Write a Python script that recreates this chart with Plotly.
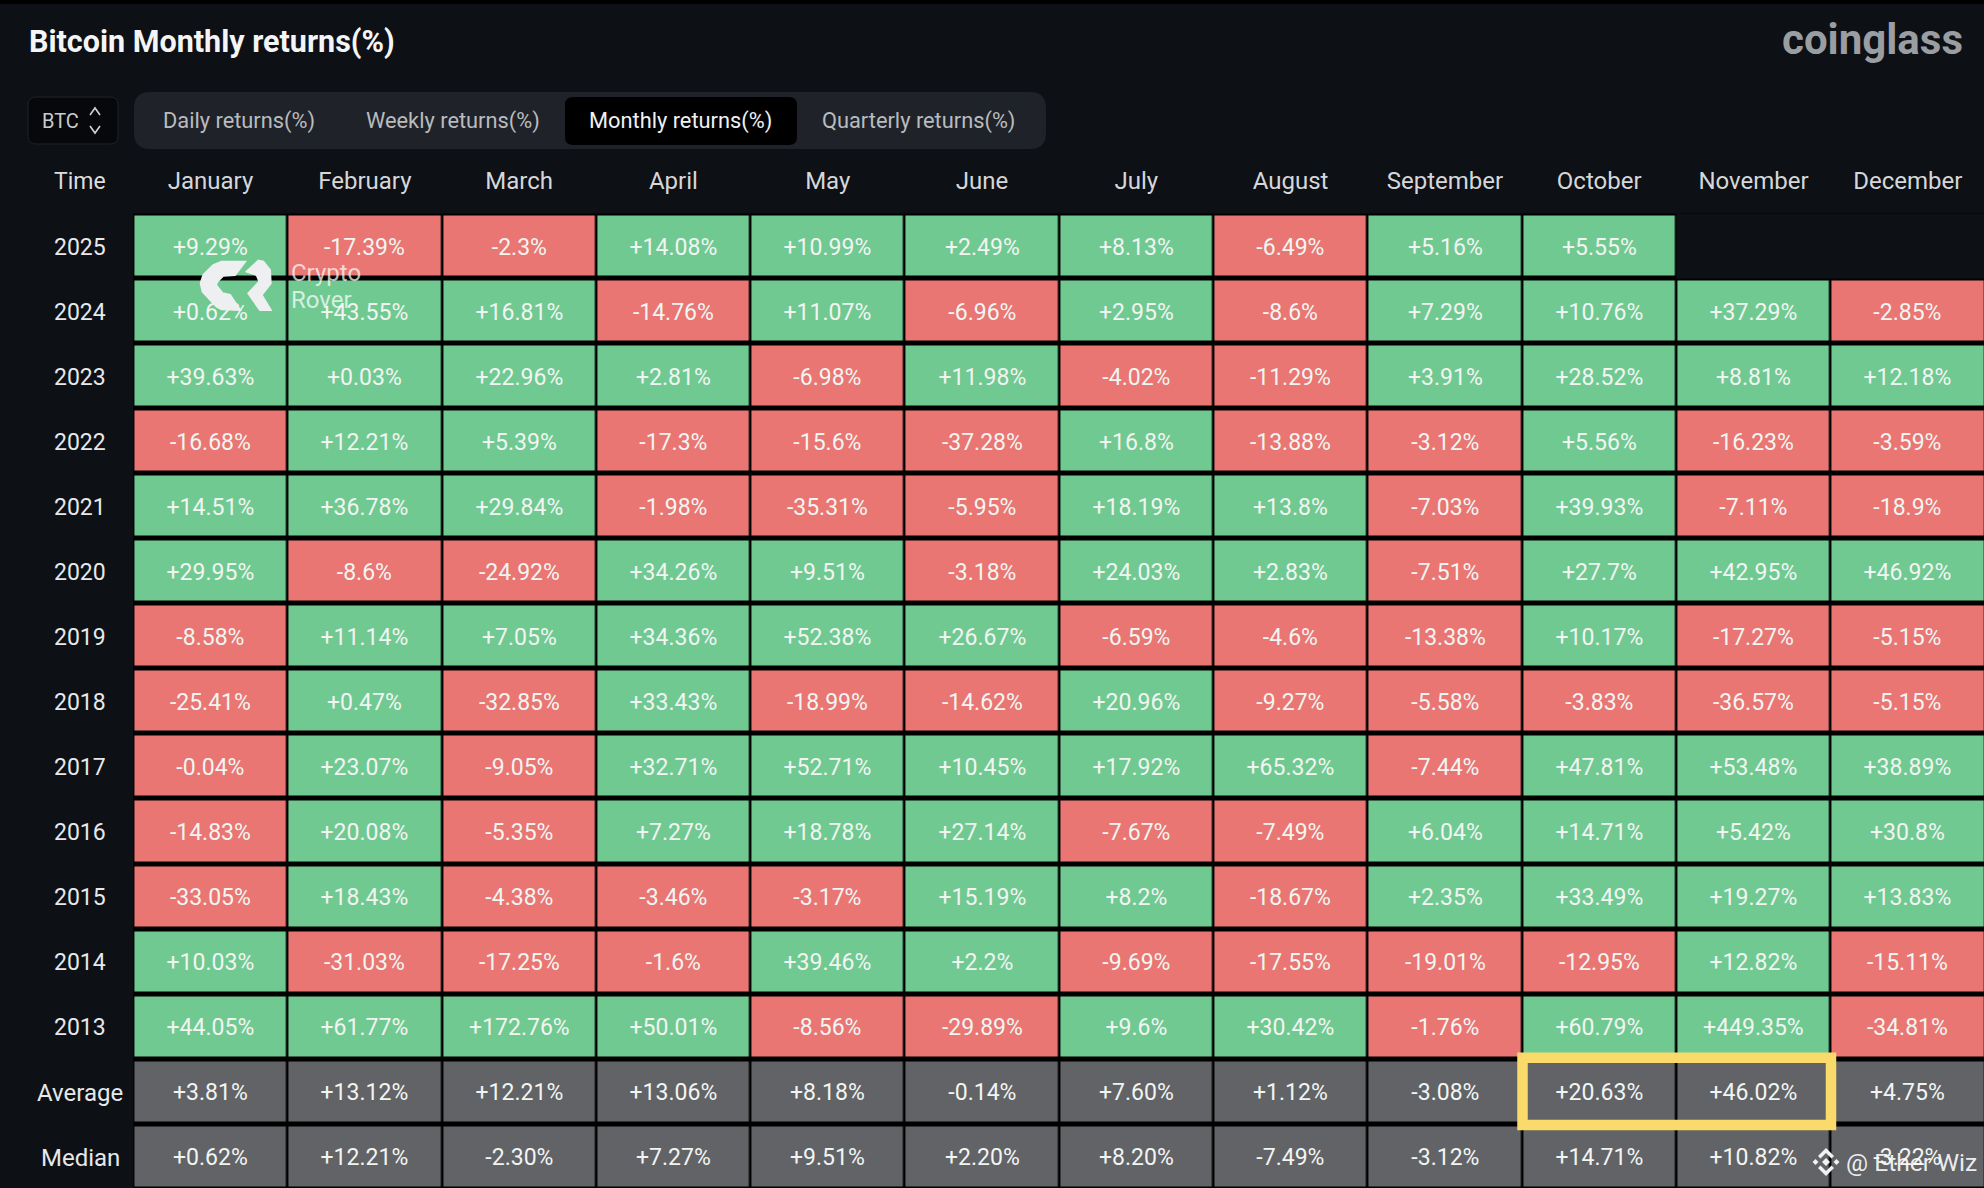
import plotly.graph_objects as go

W, H = 1984, 1188

months = ['January', 'February', 'March', 'April', 'May', 'June', 'July',
          'August', 'September', 'October', 'November', 'December']
years = ['2025', '2024', '2023', '2022', '2021', '2020', '2019',
         '2018', '2017', '2016', '2015', '2014', '2013']

r2025 = [9.29, -17.39, -2.3, 14.08, 10.99, 2.49, 8.13, -6.49, 5.16, 5.55, None, None]
r2024 = [0.62, 43.55, 16.81, -14.76, 11.07, -6.96, 2.95, -8.6, 7.29, 10.76, 37.29, -2.85]
r2023 = [39.63, 0.03, 22.96, 2.81, -6.98, 11.98, -4.02, -11.29, 3.91, 28.52, 8.81, 12.18]
r2022 = [-16.68, 12.21, 5.39, -17.3, -15.6, -37.28, 16.8, -13.88, -3.12, 5.56, -16.23, -3.59]
r2021 = [14.51, 36.78, 29.84, -1.98, -35.31, -5.95, 18.19, 13.8, -7.03, 39.93, -7.11, -18.9]
r2020 = [29.95, -8.6, -24.92, 34.26, 9.51, -3.18, 24.03, 2.83, -7.51, 27.7, 42.95, 46.92]
r2019 = [-8.58, 11.14, 7.05, 34.36, 52.38, 26.67, -6.59, -4.6, -13.38, 10.17, -17.27, -5.15]
r2018 = [-25.41, 0.47, -32.85, 33.43, -18.99, -14.62, 20.96, -9.27, -5.58, -3.83, -36.57, -5.15]
r2017 = [-0.04, 23.07, -9.05, 32.71, 52.71, 10.45, 17.92, 65.32, -7.44, 47.81, 53.48, 38.89]
r2016 = [-14.83, 20.08, -5.35, 7.27, 18.78, 27.14, -7.67, -7.49, 6.04, 14.71, 5.42, 30.8]
r2015 = [-33.05, 18.43, -4.38, -3.46, -3.17, 15.19, 8.2, -18.67, 2.35, 33.49, 19.27, 13.83]
r2014 = [10.03, -31.03, -17.25, -1.6, 39.46, 2.2, -9.69, -17.55, -19.01, -12.95, 12.82, -15.11]
r2013 = [44.05, 61.77, 172.76, 50.01, -8.56, -29.89, 9.6, 30.42, -1.76, 60.79, 449.35, -34.81]
average = [3.81, 13.12, 12.21, 13.06, 8.18, -0.14, 7.60, 1.12, -3.08, 20.63, 46.02, 4.75]
median = [0.62, 12.21, -2.30, 7.27, 9.51, 2.20, 8.20, -7.49, -3.12, 14.71, 10.82, -3.22]

year_rows = [r2025, r2024, r2023, r2022, r2021, r2020, r2019,
             r2018, r2017, r2016, r2015, r2014, r2013]
summary_names = ['Average', 'Median']
summary_rows = [average, median]
tabs = ['Daily returns(%)', 'Weekly returns(%)', 'Monthly returns(%)', 'Quarterly returns(%)']

BG = '#0d1014'
GREEN = '#70c991'
RED = '#e97672'
GREY = '#626366'
FONT = 'Roboto'

row_names = years + summary_names

# 0 red, 1 green, 2 grey; the year rows go by sign, the last two rows are always grey
z = []
labels = []
for row in year_rows:
    z.append([None if v is None else (1 if v >= 0 else 0) for v in row])
    labels.append(['' if v is None else f'{v:+g}%' for v in row])
for row in summary_rows:
    z.append([2 for v in row])
    labels.append([f'{v:+.2f}%' for v in row])


def px(x):
    return x / W


def py(y):
    return 1 - y / H


def rrect(x0, y0, x1, y1, r):
    return (f'M{px(x0 + r)},{py(y0)} L{px(x1 - r)},{py(y0)} Q{px(x1)},{py(y0)} {px(x1)},{py(y0 + r)} '
            f'L{px(x1)},{py(y1 - r)} Q{px(x1)},{py(y1)} {px(x1 - r)},{py(y1)} '
            f'L{px(x0 + r)},{py(y1)} Q{px(x0)},{py(y1)} {px(x0)},{py(y1 - r)} '
            f'L{px(x0)},{py(y0 + r)} Q{px(x0)},{py(y0)} {px(x0 + r)},{py(y0)} Z')


def poly(points, closed=True):
    return 'M' + ' L'.join(f'{px(a)},{py(b)}' for a, b in points) + (' Z' if closed else '')


def zoomed(points):
    return [(180 + a / 3, 240 + b / 3) for a, b in points]


def paper_rect(x0, y0, x1, y1, **kw):
    return dict(type='rect', xref='paper', yref='paper', x0=px(x0), x1=px(x1), y0=py(y0), y1=py(y1), **kw)


def paper_path(path, fill, line=None, width=1):
    return dict(type='path', xref='paper', yref='paper', path=path, fillcolor=fill,
                line=dict(color=line or fill, width=width if line else 0))


def note(x, y, text, size, color, anchor='center', bold=False):
    return dict(xref='paper', yref='paper', x=px(x), y=py(y), text=f'<b>{text}</b>' if bold else text,
                showarrow=False, xanchor=anchor, yanchor='middle',
                font=dict(family=FONT, size=size, color=color))


fig = go.Figure(go.Heatmap(
    x=months, y=row_names, z=z,
    text=labels, texttemplate='%{text}',
    textfont=dict(family=FONT, size=23, color='#f1f5f2'),
    colorscale=[[0, RED], [0.5, GREEN], [1, GREY]], zmin=0, zmax=2,
    showscale=False, xgap=2.6, ygap=5, hoverinfo='skip',
))

shapes = [
    paper_rect(0, 0, W, 4, fillcolor='#000000', line_width=0),
    # Nov and Dec 2025 have no data, the page background shows there
    dict(type='rect', xref='x', yref='y', x0=9.5, x1=11.5, y0=-0.5, y1=0.5, fillcolor=BG, line_width=0),
    paper_path(rrect(134, 92, 1046, 149, 16), '#1f2329'),
    paper_path(rrect(565, 97, 797, 145, 8), '#000000'),
    paper_path(rrect(28, 97, 118, 144, 8), '#06080b', '#1f2329'),
    paper_path(poly([(90, 115), (95, 108), (100, 115)], closed=False), 'rgba(0,0,0,0)', '#d0d2d5', 1.6),
    paper_path(poly([(90, 126), (95, 133), (100, 126)], closed=False), 'rgba(0,0,0,0)', '#d0d2d5', 1.6),
    # yellow highlight around Oct/Nov averages
    paper_rect(1522.5, 1057.7, 1831, 1125, fillcolor='rgba(0,0,0,0)', line=dict(color='#f9da6b', width=10.5)),
    # Crypto Rover logo
    paper_path(poly(zoomed([(195, 65), (125, 65), (100, 75), (70, 105), (62, 130), (68, 155), (110, 200),
                            (125, 208), (180, 210), (150, 165), (128, 160), (108, 135), (112, 125),
                            (130, 107), (165, 105)])),
               '#eeeff1', '#eeeff1', 2),
    paper_path(poly(zoomed([(235, 62), (200, 95), (230, 105), (238, 125), (205, 160), (240, 210),
                            (272, 210), (245, 165), (272, 130), (270, 90), (250, 65)])),
               '#eeeff1', '#eeeff1', 2),
]

# small binance mark next to the bottom right watermark
cx, cy = 1826, 1162
for dx, dy, s in [(0, 0, 4), (-10.5, 0, 3), (10.5, 0, 3)]:
    shapes.append(paper_path(poly([(cx + dx, cy + dy - s), (cx + dx + s, cy + dy),
                                   (cx + dx, cy + dy + s), (cx + dx - s, cy + dy)]), '#f1f1f1'))
for sign in (-1, 1):
    shapes.append(paper_path(poly([(cx - 8, cy + sign * 6), (cx, cy + sign * 14), (cx + 8, cy + sign * 6),
                                   (cx + 5.5, cy + sign * 3.5), (cx, cy + sign * 9),
                                   (cx - 5.5, cy + sign * 3.5)]), '#f1f1f1'))

annotations = [
    note(27, 42, 'Bitcoin Monthly returns(%)', 30.5, '#f4f5f6', 'left', True),
    note(1965, 39, 'coinglass', 42, '#9a9da1', 'right', True),
    note(40, 121, 'BTC', 20, '#c9cbce', 'left'),
    note(80, 181, 'Time', 23, '#dcdee0'),
    note(238.6, 120.7, tabs[0], 21.8, '#b9bbbe'),
    note(452.6, 120.7, tabs[1], 21.8, '#b9bbbe'),
    note(680.7, 120.7, tabs[2], 21.8, '#f0f1f2'),
    note(918, 120.7, tabs[3], 21.8, '#b9bbbe'),
    note(289, 273, 'Crypto', 24, 'rgba(255,255,255,0.72)', 'left'),
    note(289, 300, 'Rover', 24, 'rgba(255,255,255,0.72)', 'left'),
    note(1844, 1162, '@ Ether Wiz', 24.6, 'rgba(255,255,255,0.9)', 'left'),
]
# row names sit centred in their column, axis ticks can only right-align
for i, name in enumerate(row_names):
    annotations.append(dict(xref='paper', yref='y', x=px(80), y=i, yshift=-1, text=name, showarrow=False,
                            xanchor='center', yanchor='middle',
                            font=dict(family=FONT, size=24 if i >= len(years) else 23, color='#e6e8ea')))

fig.update_layout(
    width=W, height=H,
    margin=dict(l=0, r=0, t=0, b=0),
    paper_bgcolor=BG, plot_bgcolor='#000000',
    shapes=shapes, annotations=annotations,
    xaxis=dict(type='category', side='top', domain=[133.4 / W, 1], range=[-0.5, 11.494],
               showgrid=False, zeroline=False, showline=False,
               ticks='outside', ticklen=14, tickcolor='rgba(0,0,0,0)',
               tickfont=dict(family=FONT, size=24, color='#d5d7da'), fixedrange=True),
    yaxis=dict(type='category', domain=[0, 1 - 213.5 / H], range=[14.48, -0.5],
               showgrid=False, zeroline=False, showline=False, showticklabels=False, fixedrange=True),
)

fig.write_html('out.html', config={'displayModeBar': False},
               post_script="document.body.style.margin='0';document.body.style.background='%s';" % BG)
